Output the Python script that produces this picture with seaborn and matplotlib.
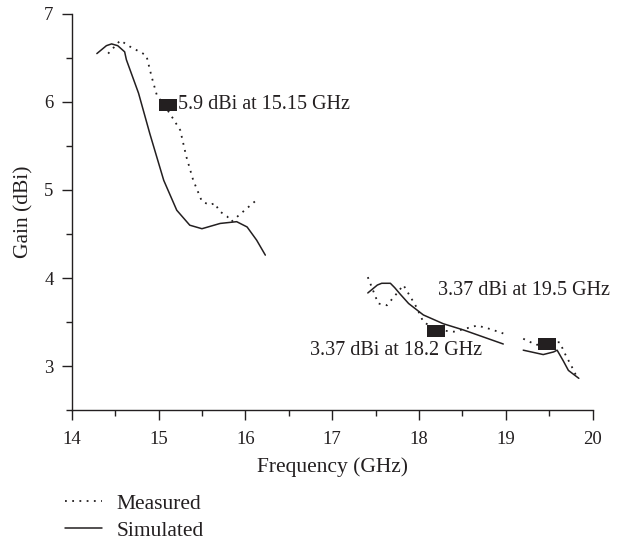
import numpy as np
import pandas as pd
import matplotlib
matplotlib.use("Agg")
import matplotlib.pyplot as plt
import seaborn as sns

# simulated gain, three frequency bands
sim_f1 = [14.29, 14.40, 14.46, 14.53, 14.61, 14.63, 14.77, 14.90, 15.06, 15.21, 15.36, 15.50, 15.71, 15.90, 16.02, 16.13, 16.23]
sim_g1 = [6.55, 6.64, 6.66, 6.64, 6.57, 6.48, 6.10, 5.64, 5.11, 4.77, 4.60, 4.56, 4.62, 4.64, 4.58, 4.43, 4.26]
sim_f2 = [17.41, 17.52, 17.57, 17.67, 17.72, 17.78, 17.88, 18.05, 18.28, 18.51, 18.97]
sim_g2 = [3.83, 3.92, 3.94, 3.94, 3.89, 3.82, 3.71, 3.58, 3.48, 3.41, 3.25]
sim_f3 = [19.20, 19.43, 19.55, 19.59, 19.66, 19.72, 19.84]
sim_g3 = [3.18, 3.13, 3.16, 3.18, 3.06, 2.95, 2.86]

# measured gain
mea_f1 = [14.42, 14.56, 14.67, 14.86, 14.92, 14.98, 15.13, 15.25, 15.32, 15.40, 15.50, 15.59, 15.65, 15.70, 15.79, 15.84, 16.11]
mea_g1 = [6.55, 6.70, 6.63, 6.53, 6.29, 6.08, 5.87, 5.68, 5.38, 5.11, 4.87, 4.83, 4.85, 4.76, 4.70, 4.64, 4.87]
mea_f2 = [17.41, 17.47, 17.53, 17.63, 17.74, 17.82, 17.97, 18.05, 18.21, 18.40, 18.67, 18.82, 18.97]
mea_g2 = [4.01, 3.86, 3.71, 3.69, 3.82, 3.92, 3.67, 3.50, 3.41, 3.39, 3.46, 3.42, 3.37]
mea_f3 = [19.20, 19.35, 19.55, 19.62, 19.68, 19.76, 19.81]
mea_g3 = [3.31, 3.24, 3.27, 3.27, 3.14, 2.99, 2.89]

# peak markers and their labels
peak_f = [15.11, 18.20, 19.47]
peak_g = [5.97, 3.40, 3.25]
labels = ["5.9 dBi at 15.15 GHz", "3.37 dBi at 18.2 GHz", "3.37 dBi at 19.5 GHz"]
label_f = [15.23, 16.75, 18.22]
label_g = [5.97, 3.18, 3.86]

sns.set_style("ticks")
plt.rcParams['font.family'] = ['Liberation Serif', 'DejaVu Serif']
plt.rcParams['font.size'] = 13.5

ink = "#231f20"
fig = plt.figure(figsize=(6.2, 5.44), dpi=100)
ax = fig.add_axes([0.1156, 0.2463, 0.8404, 0.728])

sims = [(sim_f1, sim_g1), (sim_f2, sim_g2), (sim_f3, sim_g3)]
meas = [(mea_f1, mea_g1), (mea_f2, mea_g2), (mea_f3, mea_g3)]
for i, (f, g) in enumerate(meas):
    sns.lineplot(x=f, y=g, ax=ax, sort=False, color=ink, lw=1.3,
                 linestyle=(0, (1, 3)), label="Measured" if i == 0 else None)
for i, (f, g) in enumerate(sims):
    sns.lineplot(x=f, y=g, ax=ax, sort=False, color=ink, lw=1.1,
                 label="Simulated" if i == 0 else None)

rect = [(-1, -0.65), (1, -0.65), (1, 0.65), (-1, 0.65), (-1, -0.65)]
sns.scatterplot(x=peak_f, y=peak_g, ax=ax, marker=rect, s=150, color=ink,
                edgecolor=ink, linewidth=0, zorder=5)

for t, xf, yg in zip(labels, label_f, label_g):
    ax.text(xf, yg, t, va="center", ha="left", color=ink, fontsize=14.5)

ax.set_xlim(14, 20)
ax.set_ylim(2.5, 7)
ax.set_xticks(np.arange(14, 20.1, 1))
ax.set_xticks(np.arange(14.5, 20, 1), minor=True)
ax.set_yticks(np.arange(3, 7.1, 1))
ax.set_yticks(np.arange(2.5, 7, 1), minor=True)
ax.tick_params(which="major", length=7, width=1, color=ink, labelcolor=ink)
ax.tick_params(axis="x", which="major", pad=8)
ax.tick_params(axis="y", which="major", pad=6)
ax.tick_params(which="minor", length=4, width=1, color=ink)
for s in ["left", "bottom"]:
    ax.spines[s].set_color(ink)
    ax.spines[s].set_linewidth(1)
sns.despine(ax=ax)

ax.set_xlabel("Frequency (GHz)", color=ink, labelpad=7, fontsize=15.5)
ax.set_ylabel("Gain (dBi)", color=ink, labelpad=8, fontsize=15.5)

ax.get_legend().remove()
h, l = ax.get_legend_handles_labels()
fig.legend(h, l, loc="upper left", bbox_to_anchor=(0.105, 0.092), frameon=False,
           handlelength=1.7, handletextpad=0.7, labelspacing=0.3, borderpad=0,
           borderaxespad=0, labelcolor=ink, fontsize=15.5)

fig.savefig("out.png", dpi=100)
